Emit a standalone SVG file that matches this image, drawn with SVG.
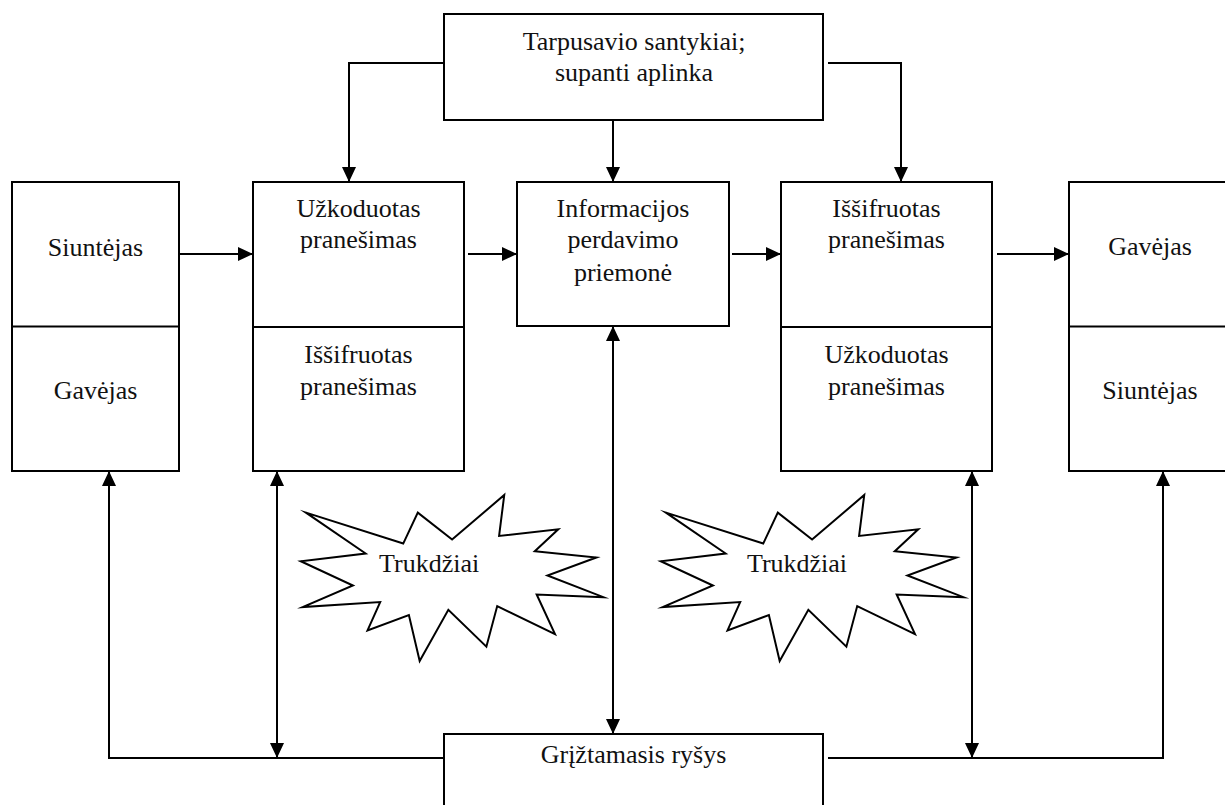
<svg xmlns="http://www.w3.org/2000/svg" width="1225" height="805" viewBox="0 0 1225 805">
  <style>
    .box { fill: #fff; stroke: #000; stroke-width: 2; }
    .div { stroke: #000; stroke-width: 2; }
    .lbl { font-family: "Liberation Serif", "Times New Roman", serif; font-size: 26px; fill: #111; text-anchor: middle; }
    .conn { fill: none; stroke: #000; stroke-width: 2; }
    .star { fill: #fff; stroke: #000; stroke-width: 2; stroke-linejoin: miter; stroke-miterlimit: 10; }
  </style>
  <defs>
    <marker id="arrow" markerUnits="userSpaceOnUse" markerWidth="16" markerHeight="14" refX="15" refY="7" orient="auto-start-reverse">
      <path d="M0,0 L15,7 L0,14 z" fill="#000"/>
    </marker>
    <!-- explosion outline, 303 x 166, origin at its top-left corner -->
    <polygon id="burst" points="5.18,17.64 102.43,48.57 117,17.64 151.3,44.57 203.44,0 198.3,40.92 257.49,34.25 233.98,56.22 295.55,62.53 246.66,80.5 302.59,102.14 235.87,99.46 254.19,139.06 196.41,111.1 185.58,151.68 147.54,114.78 118.87,166 108.08,120.1 66.71,135.39 79.39,107.11 1.89,112.1 52.14,90.49 0,66.21 64.82,58.54"/>
  </defs>
  <rect width="1225" height="805" fill="#fff"/>

  <!-- connectors -->
  <g id="connectors">
    <polyline class="conn" points="444,63 349,63 349,182" marker-end="url(#arrow)"/>
    <line class="conn" x1="613" y1="120" x2="613" y2="182" marker-end="url(#arrow)"/>
    <polyline class="conn" points="828,63 901,63 901,182" marker-end="url(#arrow)"/>

    <line class="conn" x1="180" y1="254" x2="253" y2="254" marker-end="url(#arrow)"/>
    <line class="conn" x1="468" y1="254" x2="517" y2="254" marker-end="url(#arrow)"/>
    <line class="conn" x1="732" y1="254" x2="781" y2="254" marker-end="url(#arrow)"/>
    <line class="conn" x1="997" y1="254" x2="1069" y2="254" marker-end="url(#arrow)"/>

    <polyline class="conn" points="444,758 109,758 109,471" marker-end="url(#arrow)"/>
    <line class="conn" x1="277" y1="471" x2="277" y2="758" marker-start="url(#arrow)" marker-end="url(#arrow)"/>
    <line class="conn" x1="613" y1="326" x2="613" y2="734" marker-start="url(#arrow)" marker-end="url(#arrow)"/>
    <line class="conn" x1="972" y1="471" x2="972" y2="758" marker-start="url(#arrow)" marker-end="url(#arrow)"/>
    <polyline class="conn" points="828,758 1163,758 1163,471" marker-end="url(#arrow)"/>
  </g>

  <!-- context box -->
  <g id="context">
    <rect class="box" x="444" y="14" width="379" height="106"/>
    <text class="lbl" x="634" y="49.5">Tarpusavio santykiai;</text>
    <text class="lbl" x="634" y="81">supanti aplinka</text>
  </g>

  <!-- sender / receiver (left) -->
  <g id="party-left">
    <rect class="box" x="12" y="182" width="167" height="289"/>
    <line class="div" x1="12" y1="326.5" x2="179" y2="326.5"/>
    <text class="lbl" x="95.5" y="256">Siuntėjas</text>
    <text class="lbl" x="95.5" y="399">Gavėjas</text>
  </g>

  <!-- encoded / decoded message (left) -->
  <g id="message-left">
    <rect class="box" x="253" y="182" width="211" height="289"/>
    <line class="div" x1="253" y1="327" x2="464" y2="327"/>
    <text class="lbl" x="358.5" y="216.7">Užkoduotas</text>
    <text class="lbl" x="358.5" y="248.3">pranešimas</text>
    <text class="lbl" x="358.5" y="363.3">Iššifruotas</text>
    <text class="lbl" x="358.5" y="395">pranešimas</text>
  </g>

  <!-- channel -->
  <g id="channel">
    <rect class="box" x="517" y="182" width="212" height="144"/>
    <text class="lbl" x="623" y="216.7">Informacijos</text>
    <text class="lbl" x="623" y="248.3">perdavimo</text>
    <text class="lbl" x="623" y="281">priemonė</text>
  </g>

  <!-- decoded / encoded message (right) -->
  <g id="message-right">
    <rect class="box" x="781" y="182" width="211" height="289"/>
    <line class="div" x1="781" y1="327" x2="992" y2="327"/>
    <text class="lbl" x="886.5" y="216.7">Iššifruotas</text>
    <text class="lbl" x="886.5" y="248.3">pranešimas</text>
    <text class="lbl" x="886.5" y="363">Užkoduotas</text>
    <text class="lbl" x="886.5" y="394.5">pranešimas</text>
  </g>

  <!-- receiver / sender (right) -->
  <g id="party-right">
    <rect class="box" x="1069" y="182" width="170" height="289"/>
    <line class="div" x1="1069" y1="326.5" x2="1239" y2="326.5"/>
    <text class="lbl" x="1150" y="255">Gavėjas</text>
    <text class="lbl" x="1150" y="399">Siuntėjas</text>
  </g>

  <!-- noise bursts -->
  <g id="noise-left">
    <use href="#burst" class="star" transform="translate(300.8,495)"/>
    <text class="lbl" x="429.2" y="571.7">Trukdžiai</text>
  </g>
  <g id="noise-right">
    <use href="#burst" class="star" transform="translate(660.8,495)"/>
    <text class="lbl" x="797" y="571.7">Trukdžiai</text>
  </g>

  <!-- feedback -->
  <g id="feedback">
    <rect class="box" x="444" y="734" width="379" height="90"/>
    <text class="lbl" x="633.5" y="763">Grįžtamasis ryšys</text>
  </g>
</svg>
